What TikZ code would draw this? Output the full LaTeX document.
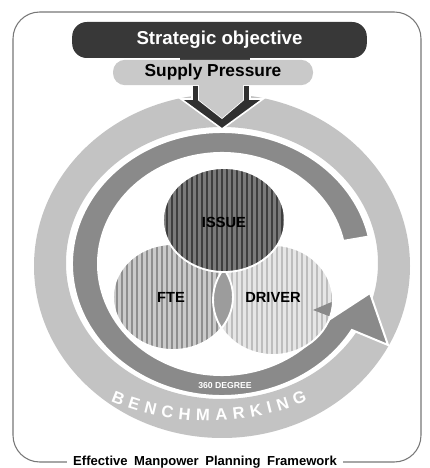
\documentclass[tikz,border=0pt]{standalone}
\usepackage{fontspec}
\setmainfont{Liberation Sans}
\usetikzlibrary{decorations.text}
\definecolor{lightring}{HTML}{C3C3C3}
\definecolor{darkring}{HTML}{8A8A8A}
\definecolor{chevron}{HTML}{303030}
\definecolor{strategic}{HTML}{383838}
\definecolor{supply}{HTML}{C9C9C9}
\definecolor{issueback}{HTML}{7A7A7A}
\definecolor{issuestripe}{HTML}{3E3E3E}
\definecolor{fteback}{HTML}{CACACA}
\definecolor{ftestripe}{HTML}{8E8E8E}
\definecolor{driverback}{HTML}{E6E6E6}
\definecolor{driverstripe}{HTML}{BDBDBD}
\definecolor{lens}{HTML}{9C9C9C}
\definecolor{framegray}{HTML}{777777}
\begin{document}
\begin{tikzpicture}[x=0.75pt,y=0.75pt,
  venntext/.style={font=\fontsize{11}{11}\selectfont\bfseries, text=black, inner sep=0pt},
  outline/.style={draw=white, line width=1.4pt}]
\useasboundingbox (0,0) rectangle (429,468);

% outer frame
\draw[framegray, line width=0.8pt, rounded corners=20pt] (13,6) rectangle (421,456);

% light outer ring (benchmarking)
\fill[lightring, even odd rule] (222,202) ellipse [x radius=188, y radius=172]
                                (222,205) ellipse [x radius=156, y radius=136];

% dark circular arrow (360 degree)
\path[fill=darkring, draw=white, line width=1.5pt]
  ([shift={(222,204)}]12:150 and 132)
  arc[start angle=12, end angle=330, x radius=150, y radius=132]
  -- (388,123) -- (370,175)
  -- ([shift={(222,204)}]330:124 and 111)
  arc[start angle=330, end angle=12, x radius=124, y radius=111] -- cycle;

% FTE circle
\begin{scope}
  \clip (173,171) ellipse [x radius=60, y radius=53];
  \fill[fteback] (173,171) ellipse [x radius=60, y radius=53];
  \foreach \x in {112,117,...,236} \draw[ftestripe, line width=1.6pt] (\x,110) -- (\x,230);
\end{scope}
% DRIVER circle
\begin{scope}
  \clip (273,168) ellipse [x radius=60, y radius=55];
  \fill[driverback] (273,168) ellipse [x radius=60, y radius=55];
  \foreach \x in {212,217,...,336} \draw[driverstripe, line width=1.6pt] (\x,105) -- (\x,230);
  \fill[darkring] (313,158) -- (334,167) -- (334,150) -- cycle;
\end{scope}
% lens FTE / DRIVER
\begin{scope}
  \clip (173,171) ellipse [x radius=60, y radius=53];
  \fill[lens] (273,168) ellipse [x radius=60, y radius=55];
\end{scope}
\draw[outline] (173,171) ellipse [x radius=60, y radius=53];
\draw[outline] (273,168) ellipse [x radius=60, y radius=55];
% ISSUE circle
\begin{scope}
  \clip (224,248) ellipse [x radius=61, y radius=52];
  \fill[issueback] (224,248) ellipse [x radius=61, y radius=52];
  \foreach \x in {162,167,...,288} \draw[issuestripe, line width=2pt] (\x,190) -- (\x,305);
\end{scope}
\draw[outline] (224,248) ellipse [x radius=61, y radius=52];

\node[venntext] (issue) at (224,246) {ISSUE};
\node[venntext] (fte) at (171,171) {FTE};
\node[venntext] (driver) at (273,171) {DRIVER};

% ring labels
\node[font=\fontsize{6.5}{6.5}\selectfont\bfseries, text=white, inner sep=0pt] (deg) at (225,82) {360 DEGREE};
\path[decorate, decoration={text along path, text align=fit to path,
  text={|\fontsize{12.5}{12.5}\selectfont\bfseries\color{white}|BENCHMARKING}}]
  ([shift={(209,299)}]247:252) arc[start angle=247, end angle=293, radius=252];

% chevron arrow below supply pressure
\path[fill=chevron, draw=white, line width=1.2pt]
  (192,383) -- (199,383) -- (199,368) -- (222,350) -- (243,368) -- (243,383) -- (250,383)
  -- (250,369) -- (263,369) -- (222,339) -- (181,369) -- (192,369) -- cycle;
\fill[supply] (199,383) -- (243,383) -- (243,368) -- (222,350) -- (199,368) -- cycle;

% bars
\fill[strategic] (180,407) rectangle (250,413);
\node[fill=strategic, rounded corners=11pt, minimum width=221pt, minimum height=27pt, inner sep=0pt,
  text=white, font=\fontsize{14}{14}\selectfont\bfseries] (strat) at (219.5,428) {Strategic objective};
\node[fill=supply, rounded corners=9pt, minimum width=150pt, minimum height=19pt, inner sep=0pt,
  text=black, font=\fontsize{13}{13}\selectfont\bfseries] (supply) at (213,395.5) {Supply Pressure};

% title
\node[fill=white, inner xsep=5pt, inner ysep=2pt, font=\fontsize{9.8}{9.8}\selectfont\bfseries] (title) at (205,6)
  {Effective\hskip.5em Manpower\hskip.5em Planning\hskip.5em Framework};
\end{tikzpicture}
\end{document}
